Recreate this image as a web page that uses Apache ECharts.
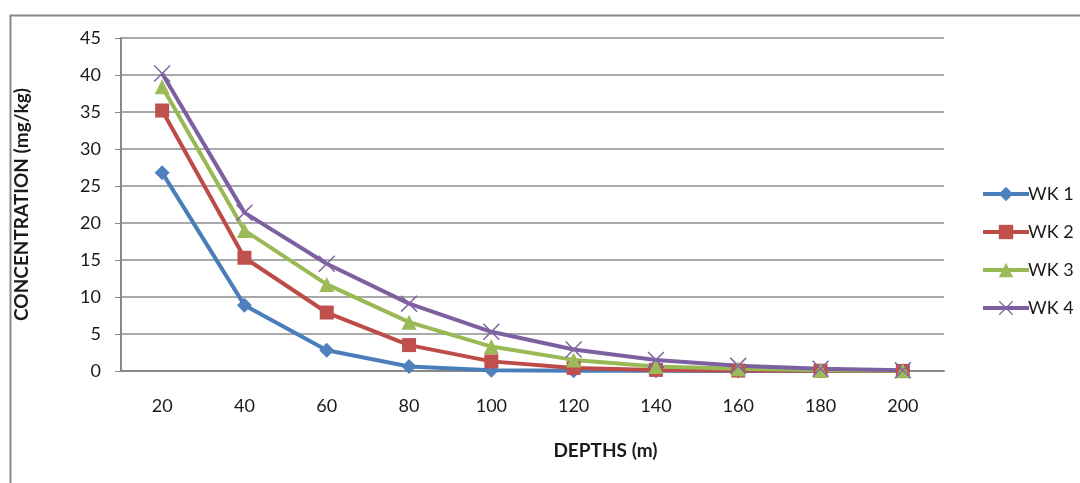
<!DOCTYPE html>
<html>
<head>
<meta charset="utf-8">
<script src="https://cdn.jsdelivr.net/npm/echarts@6/dist/echarts.min.js"></script>
<style>
    html, body { margin: 0; padding: 0; background: #fff; }
    #chart { width: 1080px; height: 483px; }
</style>
</head>
<body>
<div id="chart"></div>
<script>
    // depths (m)
    var depths = ['20', '40', '60', '80', '100', '120', '140', '160', '180', '200'];
    var yTicks = [0, 5, 10, 15, 20, 25, 30, 35, 40, 45];

    // concentration values
    var wk1 = [26.8, 8.9, 2.8, 0.6, 0.1, 0.05, 0.02, 0.01, 0.01, 0.01];
    var wk2 = [35.2, 15.3, 7.9, 3.5, 1.3, 0.4, 0.15, 0.06, 0.03, 0.01];
    var wk3 = [38.4, 19.0, 11.7, 6.6, 3.3, 1.5, 0.6, 0.3, 0.1, 0.05];
    var wk4 = [40.2, 21.4, 14.5, 9.1, 5.3, 2.9, 1.5, 0.7, 0.3, 0.1];

    var names = ['WK 1', 'WK 2', 'WK 3', 'WK 4'];
    var lineColors = ['#4a7ebb', '#be4b48', '#98b954', '#7d60a0'];
    var markColors = ['#4f81bd', '#c0504d', '#9bbb59', '#8064a2'];
    var crossPath = 'path://M0,1L1,0L8,7L15,0L16,1L9,8L16,15L15,16L8,9L1,16L0,15L7,8Z';
    var symbols = ['diamond', 'rect', 'triangle', crossPath];
    var symbolSizes = [15, 14, 15, 17];

    var font = 'Lato, "Open Sans", sans-serif';
    var textColor = '#1a1a1a';
    var chart = echarts.init(document.getElementById('chart'));

    var series = [wk1, wk2, wk3, wk4].map(function (data, i) {
        return {
            name: names[i],
            type: 'line',
            data: data,
            symbol: symbols[i],
            symbolSize: symbolSizes[i],
            showAllSymbol: true,
            animation: false,
            lineStyle: { color: lineColors[i], width: 4 },
            itemStyle: { color: markColors[i], borderWidth: 0 }
        };
    });

    var option = {
        backgroundColor: '#fff',
        animation: false,
        graphic: [{
            type: 'rect',
            left: 8, top: 13,
            shape: { width: 1100, height: 500 },
            style: { fill: 'none', stroke: '#898989', lineWidth: 2 },
            silent: true
        }],
        legend: {
            orient: 'vertical',
            left: 976,
            top: 180,
            itemGap: 20,
            itemWidth: 46,
            itemHeight: 18,
            lineStyle: { width: 4 },
            textStyle: { fontFamily: font, fontSize: 18, color: textColor, padding: [0, 0, 0, -6] },
            data: names
        },
        grid: { left: 121, right: 136, top: 38, bottom: 112, containLabel: false },
        xAxis: {
            type: 'category',
            data: depths,
            boundaryGap: true,
            name: 'DEPTHS (m)',
            nameLocation: 'middle',
            nameGap: 70,
            nameTextStyle: { fontFamily: font, fontSize: 19, fontWeight: 'bold', color: textColor, padding: [0, 0, 0, 146] },
            axisLine: { lineStyle: { color: '#888', width: 2 } },
            axisTick: { show: false },
            axisLabel: { fontFamily: font, fontSize: 18, color: textColor, margin: 26 },
            splitLine: { show: false }
        },
        yAxis: {
            type: 'value',
            min: yTicks[0],
            max: yTicks[yTicks.length - 1],
            interval: 5,
            name: 'CONCENTRATION (mg/kg)',
            nameLocation: 'middle',
            nameGap: 90,
            nameTextStyle: { fontFamily: font, fontSize: 19, fontWeight: 'bold', color: textColor },
            axisLine: { show: true, lineStyle: { color: '#888', width: 2 } },
            axisTick: { show: true, length: 6, inside: false, lineStyle: { color: '#888' } },
            axisLabel: { fontFamily: font, fontSize: 18, color: textColor, margin: 20 },
            splitLine: { lineStyle: { color: '#8c8c8c', width: 1.5 } }
        },
        series: series
    };

    chart.setOption(option);
</script>
</body>
</html>
